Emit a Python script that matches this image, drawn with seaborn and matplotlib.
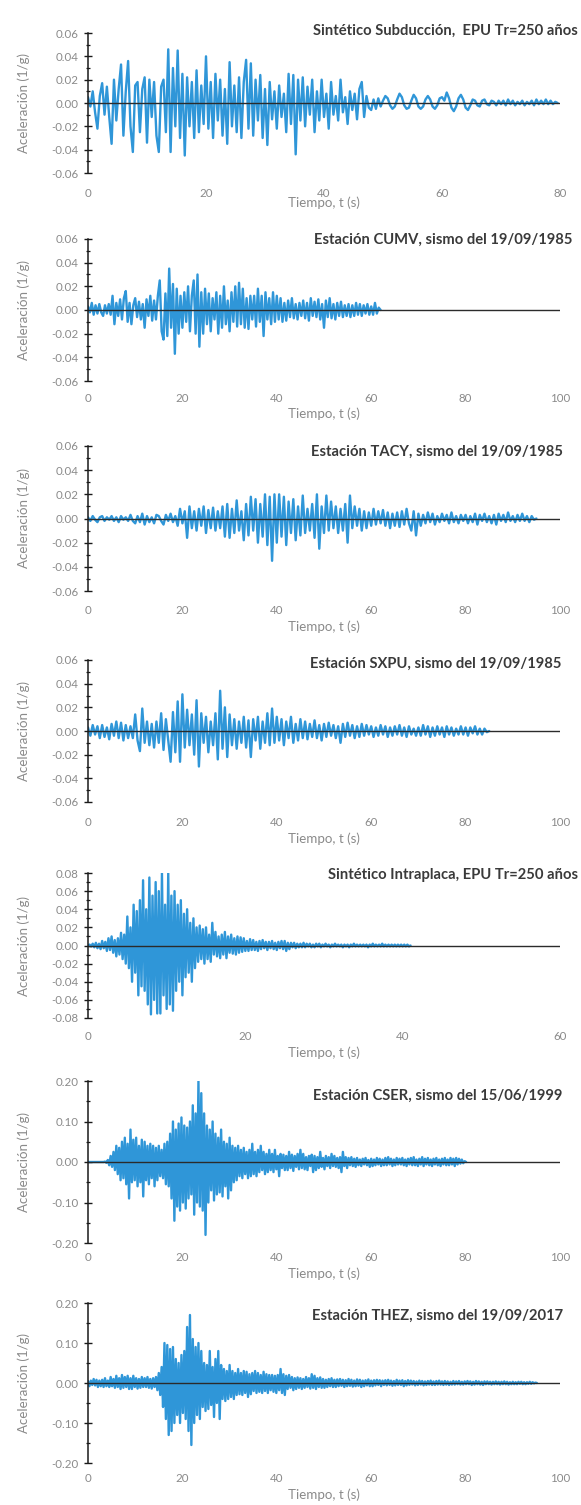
import numpy as np
import pandas as pd
import matplotlib
matplotlib.use("Agg")
import matplotlib.pyplot as plt
import seaborn as sns
from matplotlib.ticker import MultipleLocator, FormatStrFormatter

# ---------------- data (acceleration in 1/1000 g) -------------
titles = [
    "Sintético Subducción,  EPU Tr=250 años",
    "Estación CUMV, sismo del 19/09/1985",
    "Estación TACY, sismo del 19/09/1985",
    "Estación SXPU, sismo del 19/09/1985",
    "Sintético Intraplaca, EPU Tr=250 años",
    "Estación CSER, sismo del 15/06/1999",
    "Estación THEZ, sismo del 19/09/2017",
]
x_max = [80, 100, 100, 100, 60, 100, 100]
x_step = [20, 20, 20, 20, 20, 20, 20]
y_lim = [0.06, 0.06, 0.06, 0.06, 0.08, 0.20, 0.20]
y_major = [0.02, 0.02, 0.02, 0.02, 0.02, 0.10, 0.10]
dt = [0.4, 0.4, 0.5, 0.5, 0.2, 0.3, 0.3]

acc_subduccion = [
    5, -3, 10, -8, -22, 6, 17, -10, 14, -12, -35, 20, -15, 12, 33, -28, 10, 36, -20, -42, 15, 18, -25, 12, 22,
    -34, 20, -12, 18, -28, -42, 14, 20, -25, 46, -42, 30, -20, 45, -30, 25, -45, 22, -20, 18, -30, 28, -25, 15, -18,
    40, -22, 18, -30, 25, -15, 20, -28, 12, -35, 35, -20, 15, -25, 22, -30, 18, 37, -22, 34, -28, 20, -15, 24, -30,
    12, -36, 18, -14, 10, -22, 15, -12, 8, -25, 25, -18, 24, -44, 20, -15, 22, -20, 14, -10, 20, -25, 10, -15, 20,
    -12, 8, -22, 18, -10, 6, -15, 20, -8, 5, -18, 10, -6, 8, -14, 12, 18, -12, 6, -4, -6, 3, -5, 4, -3,
    2, 6, 4, -2, -5, -3, 3, 8, 5, -2, -5, -4, 2, 7, 4, -3, -5, -3, 3, 6, 3, -3, -5, -2, 4,
    5, 2, 9, 4, -4, -7, -3, 4, 7, 3, -4, -6, -2, 3, 2, -2, -3, 2, 3, -1, -2, 2, 1, -2, 2,
    -1, 2, -2, 3, -1, 2, -2, 1, -1, 2, -2, 1, -1, 2, -2, 3, -1, 2, -1, 3, -1, 2, -1, 1, 0,
]
acc_cumv = [
    3, -2, 6, -4, 4, -3, 5, -2, -5, 4, -3, 5, -4,
    12, -12, 6, -5, 9, -8, 10, 16, -10, 6, -12, 4,
    10, -6, 7, -8, 5, -15, 9, -5, 12, -9, 8, -8, 12,
    25, -18, -25, 14, -22, 35, -15, 22, -37, 18, -20, 12,
    -15, 15, -10, 20, -18, 12, 25, -20, 30, -31, 15, -20, 18,
    -12, 14, -18, 10, -8, 15, -20, 12, -15, 20, -12, 8,
    -18, 15, -10, 20, -14, 23, -12, 18, -15, 10, -16, 12, -8,
    12, -14, 18, -10, 12, -22, 15, -8, 10, -12, 15, -10,
    12, -8, 10, -10, 6, -9, 8, -6, 10, -7, 5, -8, 6,
    -5, 8, -7, 6, -9, 10, -5, 7, -6, 9, -8, 5,
    -15, 8, -6, 10, -7, 5, -8, 6, -5, 7, -6, 4, -5,
    5, -6, 4, -5, 6, -4, 5, -5, 4, -3, 5, -4,
    3, -4, 6, -3, 2, 0,
]
acc_tacy = [
    1, -2, 2, -1, -3, 1, 2, -2, 1, -1, 2, -2, 1, -3, 2, -1, 1, -2, 3, -2,
    -4, 2, -3, 4, -5, 2, -3, 1, -4, 3, 2, -2, -5, 3, -2, 4, -3, 2, -6, 8,
    -4, 6, -16, 10, -8, 6, -10, 8, -6, 10, -12, 7, -8, 9, -10, 6, -8, 10, -15, 12,
    -16, 8, -12, 15, -10, 6, -18, 12, -14, 18, -10, 16, -20, 12, -15, 20, -22, 18, -35, 20,
    -20, 20, -15, 18, -22, 14, -12, 16, -18, 10, -14, 19, -12, 8, -10, 12, -16, 20, -25, 10,
    -12, 19, -10, 14, -8, 10, -12, 8, -10, 12, -20, 19, -8, 10, -6, 8, -10, 6, -8, 5,
    -6, 8, -5, 6, -4, 7, -6, 5, -8, 4, -6, 5, -7, 6, -5, 8, -4, -10, 6, -14,
    4, -6, 3, -4, 5, -3, 4, -5, 2, -3, 4, -2, 3, -4, 5, -3, 2, -4, 3, -2,
    3, -4, 2, -3, 4, -5, 3, -2, 4, -3, 2, -4, 3, -5, 4, -2, 3, -3, 5, -2,
    2, -3, 3, -2, 4, -2, 2, -3, 2, -1, 0,
]
acc_sxpu = [
    3, -4, 5, -3, 4, -6, 5, -5, 3, -7, 6, -4, 8, -6, 7, -8, 5, -6, 4, -6,
    14, -8, -17, 19, -10, 8, -12, 6, -14, 8, -10, 15, -16, 10, -8, -26, 16, -18, 25, -26,
    31, -14, 18, -12, 14, -20, 26, -30, 15, -10, 12, -18, 8, -12, 15, -24, 34, -15, 20, -22,
    14, -12, 10, -15, 8, -10, 12, -14, 9, -22, 10, -8, 12, -15, 8, -10, 15, -12, 19, -10,
    12, -8, 10, -12, 8, -6, 12, -10, 6, -8, 10, -6, 8, -7, 6, -5, 9, -6, 5, -8,
    6, -5, 7, -4, 5, -6, 4, -10, 6, -5, 7, -4, 5, -6, 4, -5, 6, -4, 5, -3,
    4, -5, 3, -4, 5, -3, 4, -5, 3, -4, 4, -3, 5, -4, 3, -5, 4, -3, 2, -4,
    3, -4, 5, -3, 4, -5, 3, -4, 4, -3, 3, -5, 4, -3, 3, -4, 2, -3, 4, -3,
    3, -4, 3, -2, 4, -3, 2, -3, 2, -1, 0,
]
acc_intraplaca = [
    0, 1, -1, 2, -2, 3, -3, 2, -4, 5, -3, 4, -6, 8, -5,
    10, -8, 6, -12, 8, -10, 14, -15, 12, -20,
    32, -25, 20, -40, 45, -30, 38, -55, 50, -45,
    72, -50, 40, -65, 75, -76, 55, -60, 70, -75,
    60, -75, 80, -55, 45, -70, 80, -65, 55, -72,
    60, -50, 45, -40, 50, -55, 35, -35, 40, -30,
    25, -40, 30, -25, 20, -18, 22, -15, 18, -20,
    20, -15, 12, -18, 25, -10, 15, -12, 10, -14,
    12, -10, 15, -14, 10, -8, 12, -9, 8, -10,
    10, -8, 9, -7, 8, -6, 5, -6, 7, -5,
    6, -5, 4, -6, 5, -4, 6, -3, 4, -5,
    4, -3, 5, -4, 3, -5, 4, -3, 5, -4,
    5, -6, 3, -4, 3, -2, 3, -3, 2, -2,
    2, -2, 3, -2, 2, -1, 2, -2, 1, -2,
    2, -1, 2, -2, 1, -1, 2, -1, 1, -2,
    1, -1, 2, -1, 1, -1, 1, -2, 1, -1,
    1, -2, 1, -1, 2, -1, 1, -1, 1, -1,
    1, -1, 1, -2, 1, -1, 2, -1, 1, -1,
    1, -1, 2, -1, 1, -1, 1, -1, 1, -1,
    1, -1, 1, -1, 1, -1, 1, -1, 1, -1,
    0,
]
acc_cser = [
    0, 0, 0, 0, 0, 0, 0, 0, 0, 0,
    0, 0, 1, -2, 5, -8, 15, -12, 25, -20,
    40, -30, 35, -45, 50, -40, 60, -55, 45, -90,
    80, -50, 55, -45, 60, -60, 40, -50, 55, -85,
    50, -45, 40, -55, 45, -40, 40, -60, 35, -45,
    40, -35, 30, -40, 45, -55, 50, -60, 70, -90,
    100, -145, 80, -110, 95, -120, 110, -100, 90, -115,
    85, -90, 100, -80, 140, -130, 120, -100, 200, -110,
    170, -120, 120, -180, 90, -100, 80, -70, 100, -95,
    70, -80, 60, -75, 80, -85, 50, -60, 45, -90,
    60, -70, 40, -50, 35, -45, 40, -35, 30, -40,
    35, -30, 25, -40, 30, -35, 45, -30, 25, -35,
    30, -25, 40, -20, 25, -30, 20, -25, 30, -20,
    20, -25, 30, -18, 15, -35, 20, -15, 18, -20,
    15, -20, 25, -15, 18, -22, 15, -12, 20, -18,
    30, -15, 20, -18, 12, -20, 15, -10, 18, -25,
    15, -20, 12, -15, 25, -12, 10, -18, 15, -10,
    12, -15, 20, -10, 15, -12, 10, -15, 12, -25,
    25, -10, 12, -15, 10, -8, 12, -10, 8, -12,
    10, -8, 6, -10, 8, -6, 10, -8, 5, -12,
    8, -10, 6, -8, 10, -6, 8, -10, 6, -8,
    10, -8, 12, -6, 8, -10, 6, -8, 10, -6,
    8, -6, 10, -8, 6, -10, 8, -6, 10, -8,
    12, -8, 6, -10, 8, -6, 12, -10, 8, -6,
    10, -8, 6, -10, 8, -6, 10, -8, 6, -10,
    8, -6, 10, -8, 6, -8, 10, -6, 8, -10,
    10, -6, 8, -4, 6, -3, 2, 0,
]
acc_thez = [
    5, -8, 6, -5, 10, -6, 8, -10, 6, -8,
    8, -10, 12, -8, 6, -10, 15, -8, 10, -12,
    18, -10, 12, -15, 20, -12, 15, -10, 18, -15,
    12, -15, 18, -10, 12, -14, 10, -12, 15, -10,
    12, -10, 15, -12, 10, -14, 12, -10, 15, -18,
    25, -30, 40, -60, 100, -90, 95, -130, 85, -120,
    90, -100, 60, -80, 50, -100, 70, -75, 80, -90,
    140, -120, 170, -155, 110, -100, 90, -80, 100, -90,
    80, -60, 50, -70, 45, -65, 80, -55, 40, -85,
    60, -50, 80, -90, 45, -40, 35, -45, 30, -40,
    45, -35, 30, -40, 25, -30, 35, -28, 25, -30,
    30, -25, 28, -35, 22, -28, 25, -20, 30, -25,
    25, -22, 20, -25, 28, -20, 22, -25, 20, -18,
    20, -22, 18, -25, 20, -18, 35, -25, 22, -30,
    18, -15, 20, -12, 15, -18, 12, -15, 14, -12,
    12, -15, 10, -12, 15, -10, 12, -14, 22, -12,
    18, -15, 12, -10, 14, -12, 10, -12, 8, -10,
    10, -8, 12, -10, 8, -10, 9, -8, 10, -7,
    8, -10, 7, -8, 10, -7, 8, -9, 6, -8,
    9, -7, 8, -10, 6, -8, 7, -6, 9, -8,
    6, -8, 7, -6, 8, -5, 7, -8, 6, -5,
    7, -6, 8, -5, 6, -7, 5, -6, 8, -5,
    6, -5, 7, -8, 5, -6, 7, -5, 6, -4,
    5, -6, 4, -5, 6, -4, 5, -6, 4, -5,
    5, -4, 6, -5, 4, -5, 5, -4, 6, -4,
    4, -5, 5, -4, 4, -5, 3, -4, 5, -4,
    4, -3, 5, -4, 3, -4, 4, -3, 5, -3,
    4, -5, 3, -4, 5, -3, 4, -4, 3, -5,
    4, -3, 4, -3, 3, -4, 3, -3, 4, -3,
    3, -4, 3, -3, 4, -3, 3, -4, 2, -3,
    3, -3, 2, -3, 3, -2, 3, -3, 2, -3,
    2, -2, 3, -2, 2, -1, 1, 0,
]
series = [acc_subduccion, acc_cumv, acc_tacy, acc_sxpu, acc_intraplaca, acc_cser, acc_thez]

# ---------------- layout (pixel geometry of the reference) ----------------
W, H = 581, 1505
ax_left, ax_right = 88, 560
ax_tops = [33, 239, 446, 660, 873, 1081, 1303]
ax_bots = [173, 381, 591, 802, 1018, 1243, 1463]
xlab_off = [20, 17, 19, 20, 18, 14, 15]
xtitle_y = [203, 414, 627, 839, 1053, 1274, 1495]
title_right = [578, 572, 563, 561, 578, 562, 563]
title_y = [31, 240, 452, 664, 875, 1096, 1316]

sns.set_theme(style="white")
plt.rcParams["font.family"] = ["Lato", "DejaVu Sans"]
plt.rcParams["axes.unicode_minus"] = False

BLUE = "#2f96d8"
GREY = "#8a8a8a"

fig = plt.figure(figsize=(W / 100, H / 100), dpi=100)

for i in range(7):
    top, bot = ax_tops[i], ax_bots[i]
    ax = fig.add_axes([ax_left / W, 1 - bot / H, (ax_right - ax_left) / W, (bot - top) / H])
    acc = np.array(series[i], dtype=float) / 1000.0
    t = np.arange(len(acc)) * dt[i]
    df = pd.DataFrame({"t": t, "a": acc})
    sns.lineplot(data=df, x="t", y="a", ax=ax, color=BLUE, lw=1.7,
                 estimator=None, sort=False, zorder=2)
    ax.axhline(0, color="#2b2b2b", lw=1.0, zorder=3)
    ax.set_xlim(0, x_max[i])
    ax.set_ylim(-y_lim[i], y_lim[i])
    ax.set_xlabel("")
    ax.set_ylabel("")
    for s in ["top", "right", "bottom"]:
        ax.spines[s].set_visible(False)
    ax.spines["left"].set_color("#1a1a1a")
    ax.spines["left"].set_linewidth(1.1)
    ax.spines["left"].set_zorder(4)
    ax.set_xticks(np.arange(0, x_max[i] + 1, x_step[i]))
    ax.yaxis.set_major_locator(MultipleLocator(y_major[i]))
    ax.yaxis.set_minor_locator(MultipleLocator(y_major[i] / 2))
    ax.yaxis.set_major_formatter(FormatStrFormatter("%.2f"))
    ax.tick_params(axis="x", length=0, pad=xlab_off[i] * 0.72 - 3.5, labelsize=8.3, labelcolor=GREY)
    ax.tick_params(axis="y", which="major", direction="inout", length=6, width=1.0,
                   color="#1a1a1a", labelsize=8.3, labelcolor=GREY, pad=4, left=True)
    ax.tick_params(axis="y", which="minor", direction="inout", length=3.5, width=0.9,
                   color="#1a1a1a", left=True)
    ax.grid(False)
    ax.patch.set_alpha(0)

    fig.text(title_right[i] / W, 1 - title_y[i] / H, titles[i], ha="right", va="center",
             fontsize=10.6, fontweight="bold", color="#3a3a3a")
    fig.text((ax_left + ax_right) / 2 / W, 1 - xtitle_y[i] / H, "Tiempo, t (s)",
             ha="center", va="center", fontsize=9.6, color=GREY)
    fig.text(24 / W, 1 - (top + bot) / 2 / H, "Aceleración (1/g)", rotation=90,
             ha="center", va="center", fontsize=9.6, color=GREY)

fig.savefig("out.png", dpi=100, facecolor="white")
